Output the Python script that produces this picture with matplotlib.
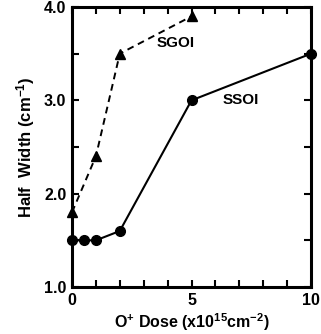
import matplotlib
matplotlib.use("Agg")
import matplotlib.pyplot as plt
from matplotlib.ticker import MultipleLocator

plt.rcParams['font.family'] = ['Liberation Sans', 'DejaVu Sans']
plt.rcParams['font.weight'] = 'bold'
plt.rcParams['mathtext.fontset'] = 'custom'
plt.rcParams['mathtext.rm'] = 'Liberation Sans:bold'
plt.rcParams['mathtext.bf'] = 'Liberation Sans:bold'
plt.rcParams['mathtext.default'] = 'bf'

# data
ssoi_dose = [0, 0.5, 1, 2, 5, 10]
ssoi_width = [1.5, 1.5, 1.5, 1.6, 3.0, 3.5]
sgoi_dose = [0, 1, 2, 5]
sgoi_width = [1.8, 2.4, 3.5, 3.9]

fig = plt.figure(figsize=(3.21, 3.34), dpi=100)
ax = fig.add_axes([72 / 321, 1 - 287 / 334, 239 / 321, 280 / 334])

ax.plot(sgoi_dose, sgoi_width, 'k--', marker='^', markersize=6.5, linewidth=1.4,
        dashes=(3.5, 2.5), clip_on=False, zorder=3)
ax.plot(ssoi_dose, ssoi_width, 'k-', marker='o', markersize=7, linewidth=1.5,
        clip_on=False, zorder=3)

ax.text(4.35, 3.61, "SGOI", fontsize=11, fontweight='bold', ha='center', va='center')
ax.text(7.07, 3.0, "SSOI", fontsize=11, fontweight='bold', ha='center', va='center')

ax.set_xlim(0, 10)
ax.set_ylim(1.0, 4.0)
ax.set_xticks([0, 5, 10])
ax.set_xticklabels(["0", "5", "10"])
ax.xaxis.set_minor_locator(MultipleLocator(1))
ax.set_yticks([1.0, 2.0, 3.0, 4.0])
ax.set_yticklabels(["1.0", "2.0", "3.0", "4.0"])
ax.yaxis.set_minor_locator(MultipleLocator(0.5))

ax.tick_params(which='both', direction='in', top=True, right=True, width=1.5)
ax.tick_params(which='major', length=5, labelsize=11.5, pad=4)
ax.tick_params(which='minor', length=5)
for lab in ax.get_xticklabels() + ax.get_yticklabels():
    lab.set_fontweight('bold')
for s in ax.spines.values():
    s.set_linewidth(2.2)

ax.set_xlabel(r"O$^{+}$ Dose (x10$^{15}$cm$^{-2}$)",
              fontsize=11.5, fontweight='bold', labelpad=3)
ax.set_ylabel(r"Half  Width (cm$^{-1}$)", fontsize=12, fontweight='bold',
              labelpad=5)

fig.savefig("out.png", dpi=100)
